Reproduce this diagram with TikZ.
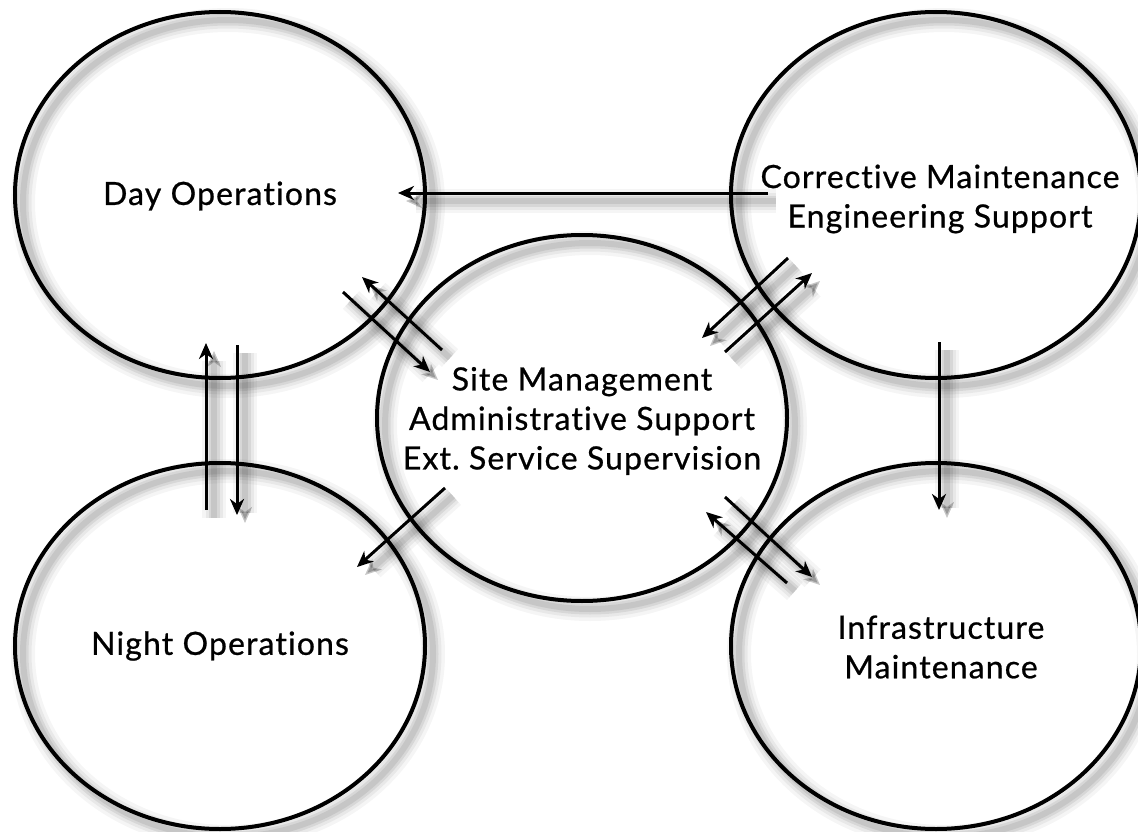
\documentclass[tikz,border=0pt]{standalone}
\usepackage{fontspec}
\setmainfont{Lato}[Ligatures=NoCommon, LetterSpace=3.5, FakeBold=0.7]
\usetikzlibrary{shapes.geometric,arrows.meta}
\frenchspacing
\tikzset{
  softshadow/.style={
    preaction={draw=black,opacity=0.04,line width=24pt,transform canvas={shift={(8pt,-8pt)}}},
    preaction={draw=black,opacity=0.05,line width=17pt,transform canvas={shift={(8pt,-8pt)}}},
    preaction={draw=black,opacity=0.07,line width=11pt,transform canvas={shift={(8pt,-8pt)}}},
    preaction={draw=black,opacity=0.08,line width=6pt,transform canvas={shift={(8pt,-8pt)}}}},
  orb/.style={ellipse, draw=black, line width=4pt, minimum width=410pt, minimum height=366pt, inner sep=0pt, softshadow},
  lbl/.style={font=\fontsize{32}{39.5}\selectfont, align=center, inner sep=0pt},
  flow/.style={line width=3pt, -{Stealth[length=16pt,width=14pt,inset=5pt]}, softshadow}
}
\begin{document}
\begin{tikzpicture}[x=1pt,y=-1pt]
\useasboundingbox[fill=white] (0,0) rectangle (1138,832);
% circles
\node[orb] (day)   at (220,195) {};
\node[orb] (corr)  at (936,195) {};
\node[orb] (site)  at (582,418) {};
\node[orb] (night) at (220,646) {};
\node[orb] (infra) at (936,646) {};
% labels
\node[lbl] (tday)   at (220,196) {Day Operations};
\node[lbl] (tcorr)  at (940,199) {Corrective Maintenance\\Engineering Support};
\node[lbl] (tsite)  at (582,421) {Site Management\\Administrative Support\\Ext. Service Supervision};
\node[lbl] (tnight) at (220,646) {Night Operations};
\node[lbl] (tinfra) at (941,647) {Infrastructure\\Maintenance};
% end points
\coordinate (a1) at (768,193); \coordinate (b1) at (398,193);
\coordinate (a2) at (343,292); \coordinate (b2) at (430,372);
\coordinate (a3) at (442,350); \coordinate (b3) at (362,277);
\coordinate (a4) at (788,258); \coordinate (b4) at (702,338);
\coordinate (a5) at (725,352); \coordinate (b5) at (812,273);
\coordinate (a6) at (206,510); \coordinate (b6) at (206,343);
\coordinate (a7) at (237,345); \coordinate (b7) at (237,515);
\coordinate (a8) at (445,488); \coordinate (b8) at (357,567);
\coordinate (a9) at (939,342); \coordinate (b9) at (939,510);
\coordinate (a10) at (725,497); \coordinate (b10) at (812,577);
\coordinate (a11) at (787,583); \coordinate (b11) at (706,512);
% connectors
\draw[flow] (a1) -- (b1);
\draw[flow] (a2) -- (b2);
\draw[flow] (a3) -- (b3);
\draw[flow] (a4) -- (b4);
\draw[flow] (a5) -- (b5);
\draw[flow] (a6) -- (b6);
\draw[flow] (a7) -- (b7);
\draw[flow] (a8) -- (b8);
\draw[flow] (a9) -- (b9);
\draw[flow] (a10) -- (b10);
\draw[flow] (a11) -- (b11);
\end{tikzpicture}
\end{document}
